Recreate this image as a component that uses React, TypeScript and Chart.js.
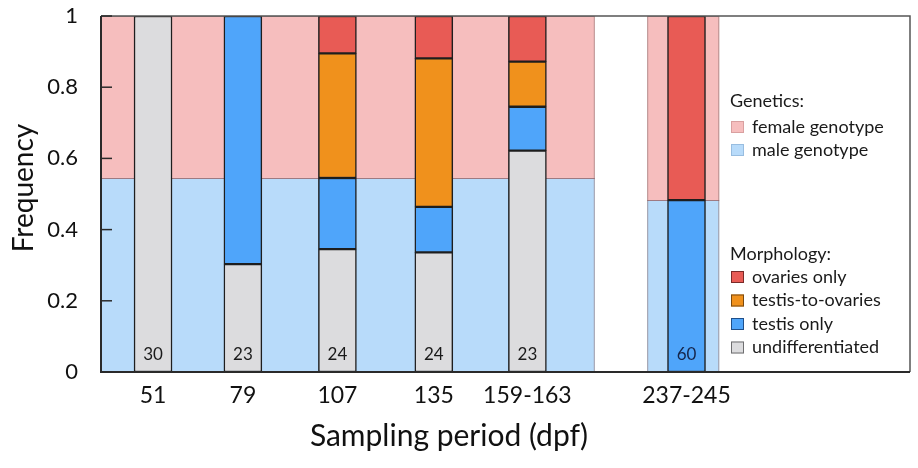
import React, { useEffect, useRef } from 'react';
import { Chart, registerables } from 'chart.js';

Chart.register(...registerables);

// ---- data ----
const periods = ['51', '79', '107', '135', '159-163', '237-245'];
const slotX = [1, 1.96, 2.97, 4, 5, 6.7];
const sampleSizes = [30, 23, 24, 24, 23, 60];
const undifferentiated = [1.0, 0.303, 0.345, 0.336, 0.622, 0];
const testisOnly = [0, 0.697, 0.2, 0.128, 0.123, 0.483];
const testisToOvaries = [0, 0, 0.35, 0.417, 0.127, 0];
const ovariesOnly = [0, 0, 0.105, 0.119, 0.128, 0.517];

// genotype regions (x extent in slot units, male genotype frequency)
const genoStart = [0.444, 6.28];
const genoEnd = [5.72, 7.05];
const maleGenotype = [0.545, 0.483];

const yTickValues = [0, 0.2, 0.4, 0.6, 0.8, 1];
const yTickLabels = ['0', '0.2', '0.4', '0.6', '0.8', '1'];

const xTitle = 'Sampling period (dpf)';
const yTitle = 'Frequency';

const xMin = 0.444;
const xMax = 9.088;

const FONT = 'Lato, "Open Sans", sans-serif';

const COLORS = {
  female: '#F6BEBE',
  male: '#B8DBFA',
  ovaries: '#E85B55',
  tto: '#F0911C',
  testis: '#4FA5FA',
  undiff: '#DCDCDE',
};

const morphSeries = [
  { label: 'undifferentiated', data: undifferentiated, color: COLORS.undiff, edge: '#6e6e70' },
  { label: 'testis only', data: testisOnly, color: COLORS.testis, edge: '#1f4f8a' },
  { label: 'testis-to-ovaries', data: testisToOvaries, color: COLORS.tto, edge: '#7a4a10' },
  { label: 'ovaries only', data: ovariesOnly, color: COLORS.ovaries, edge: '#7a2a28' },
];

const backgroundPlugin = {
  id: 'genoBackground',
  beforeDatasetsDraw(chart: any) {
    const { ctx, scales } = chart;
    const xs = scales.x;
    const ys = scales.y;
    ctx.save();
    for (let i = 0; i < genoStart.length; i++) {
      const x0 = xs.getPixelForValue(genoStart[i]);
      const x1 = xs.getPixelForValue(genoEnd[i]);
      const yTop = ys.getPixelForValue(1);
      const ySplit = ys.getPixelForValue(maleGenotype[i]);
      const yBot = ys.getPixelForValue(0);
      ctx.fillStyle = COLORS.female;
      ctx.fillRect(x0, yTop, x1 - x0, ySplit - yTop);
      ctx.fillStyle = COLORS.male;
      ctx.fillRect(x0, ySplit, x1 - x0, yBot - ySplit);
      ctx.lineWidth = 1;
      ctx.strokeStyle = 'rgba(140,110,110,0.6)';
      ctx.strokeRect(x0 + 0.5, yTop + 0.5, x1 - x0 - 1, yBot - yTop - 1);
      ctx.strokeStyle = 'rgba(150,90,90,0.75)';
      ctx.beginPath();
      ctx.moveTo(x0, Math.round(ySplit) + 0.5);
      ctx.lineTo(x1, Math.round(ySplit) + 0.5);
      ctx.stroke();
    }
    ctx.restore();
  },
};

const overlayPlugin = {
  id: 'overlay',
  afterDatasetsDraw(chart: any) {
    const { ctx, scales, chartArea } = chart;
    const xs = scales.x;
    const ys = scales.y;
    ctx.save();
    // sample sizes
    ctx.font = `17px ${FONT}`;
    ctx.textAlign = 'center';
    ctx.textBaseline = 'middle';
    for (let i = 0; i < sampleSizes.length; i++) {
      const x = xs.getPixelForValue(slotX[i]);
      const y = ys.getPixelForValue(0) - 17;
      ctx.fillStyle = i === 5 ? '#15254a' : '#1a1a1a';
      ctx.fillText(String(sampleSizes[i]), x, y);
    }
    // frame
    const { left, right, top, bottom } = chartArea;
    ctx.lineWidth = 1.5;
    ctx.strokeStyle = '#555';
    ctx.beginPath();
    ctx.moveTo(left, top);
    ctx.lineTo(right, top);
    ctx.lineTo(right, bottom);
    ctx.stroke();
    ctx.lineWidth = 2;
    ctx.strokeStyle = '#2a2a2a';
    ctx.beginPath();
    ctx.moveTo(left, top);
    ctx.lineTo(left, bottom);
    ctx.lineTo(right, bottom);
    ctx.stroke();
    // inward y ticks
    ctx.lineWidth = 1.5;
    for (const v of yTickValues) {
      const y = ys.getPixelForValue(v);
      ctx.beginPath();
      ctx.moveTo(left, y);
      ctx.lineTo(left + 11, y);
      ctx.stroke();
    }
    // axis titles
    ctx.fillStyle = '#111';
    ctx.textAlign = 'center';
    ctx.textBaseline = 'middle';
    ctx.font = `30px ${FONT}`;
    ctx.fillText(xTitle, left + 348, bottom + 64);
    ctx.font = `28px ${FONT}`;
    ctx.save();
    ctx.translate(24, top + 172);
    ctx.rotate(-Math.PI / 2);
    ctx.fillText(yTitle, 0, 0);
    ctx.restore();
    // legend
    const lx = right - 180;
    const textX = right - 158;
    const drawHeader = (t: string, y: number) => {
      ctx.fillStyle = '#1a1a1a';
      ctx.font = `18px ${FONT}`;
      ctx.textAlign = 'left';
      ctx.textBaseline = 'middle';
      ctx.fillText(t, lx, y);
    };
    const drawItem = (t: string, y: number, fill: string, edge: string) => {
      ctx.fillStyle = fill;
      ctx.fillRect(lx + 1, y - 6, 13, 12);
      ctx.lineWidth = 1;
      ctx.strokeStyle = edge;
      ctx.strokeRect(lx + 1.5, y - 5.5, 12, 11);
      ctx.fillStyle = '#1a1a1a';
      ctx.font = `18px ${FONT}`;
      ctx.textAlign = 'left';
      ctx.textBaseline = 'middle';
      ctx.fillText(t, textX, y);
    };
    drawHeader('Genetics:', top + 85);
    drawItem('female genotype', top + 111, COLORS.female, '#d9a0a0');
    drawItem('male genotype', top + 134, COLORS.male, '#98bde0');
    drawHeader('Morphology:', top + 238);
    const legendOrder = [3, 2, 1, 0];
    legendOrder.forEach((k, j) => {
      const s = morphSeries[k];
      drawItem(s.label, top + 261 + j * 23.5, s.color, s.edge);
    });
    ctx.restore();
  },
};

export default function App() {
  const canvasRef = useRef<HTMLCanvasElement | null>(null);

  useEffect(() => {
    document.body.style.margin = '0';
    const canvas = canvasRef.current;
    if (!canvas) return;
    const datasets = morphSeries.map((s) => ({
      label: s.label,
      data: s.data.map((v, i) => ({ x: slotX[i], y: v > 0 ? v : null })),
      backgroundColor: s.color,
      borderColor: '#1e1e1e',
      borderWidth: 1.5,
      borderSkipped: false as const,
      barThickness: 38,
    }));
    const chart = new Chart(canvas, {
      type: 'bar',
      data: { datasets },
      plugins: [backgroundPlugin, overlayPlugin],
      options: {
        animation: false,
        responsive: false,
        maintainAspectRatio: false,
        layout: { padding: { top: 16, right: 8, left: 0, bottom: 0 } },
        plugins: {
          legend: { display: false },
          tooltip: { enabled: false },
        },
        scales: {
          x: {
            type: 'linear',
            min: xMin,
            max: xMax,
            offset: false,
            stacked: true,
            grid: { display: false },
            border: { display: false },
            afterBuildTicks: (scale: any) => {
              scale.ticks = slotX.map((v) => ({ value: v }));
            },
            afterFit: (scale: any) => {
              scale.height = 96;
              scale.paddingLeft = 0;
              scale.paddingRight = 0;
            },
            ticks: {
              autoSkip: false,
              maxRotation: 0,
              padding: 2,
              color: '#111',
              font: { family: FONT, size: 23 },
              callback: (_v: any, idx: number) => periods[idx],
            },
          },
          y: {
            type: 'linear',
            min: 0,
            max: 1,
            stacked: true,
            grid: { display: false },
            border: { display: false },
            afterBuildTicks: (scale: any) => {
              scale.ticks = yTickValues.map((v) => ({ value: v }));
            },
            afterFit: (scale: any) => {
              scale.width = 101;
              scale.paddingTop = 0;
              scale.paddingBottom = 0;
            },
            ticks: {
              padding: 15,
              color: '#111',
              font: { family: FONT, size: 22 },
              callback: (_v: any, idx: number) => yTickLabels[idx],
            },
          },
        },
      },
    });
    return () => chart.destroy();
  }, []);

  return (
    <div style={{ width: 918, height: 468 }}>
      <canvas ref={canvasRef} width={918} height={468} style={{ display: 'block' }} />
    </div>
  );
}
